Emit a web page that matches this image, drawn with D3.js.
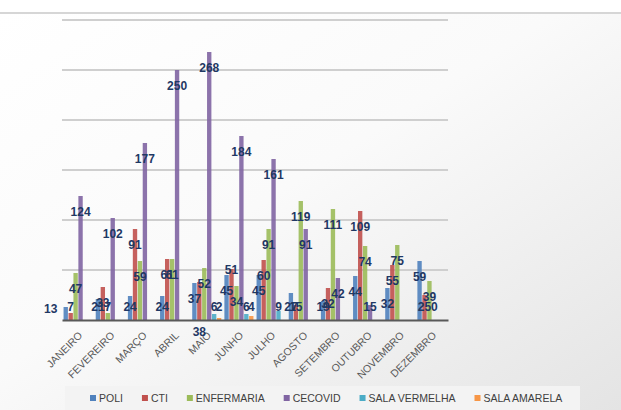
<!DOCTYPE html>
<html><head><meta charset="utf-8">
<script src="https://cdn.jsdelivr.net/npm/d3@7"></script>
<style>html,body{margin:0;padding:0;background:#fff;}svg{display:block;}</style>
</head><body>
<script>
const months = ["JANEIRO","FEVEREIRO","MARÇO","ABRIL","MAIO","JUNHO","JULHO","AGOSTO","SETEMBRO","OUTUBRO","NOVEMBRO","DEZEMBRO"];
const seriesNames = ["POLI","CTI","ENFERMARIA","CECOVID","SALA VERMELHA","SALA AMARELA"];
const poli         = [13, 21, 24, 24, 37, 45, 45, 27, 19, 44, 32, 59];
const cti          = [7, 33, 91, 61, 38, 51, 60, 15, 32, 109, 55, 25];
const enfermaria   = [47, 7, 59, 61, 52, 34, 91, 119, 111, 74, 75, 39];
const cecovid      = [124, 102, 177, 250, 268, 184, 161, 91, 42, 15, null, 0];
const salaVermelha = [null, null, null, null, 6, 6, 9, null, null, null, null, null];
const salaAmarela  = [null, null, null, null, 2, 4, null, null, null, null, null, null];
const yTicks = [0, 50, 100, 150, 200, 250, 300];
const colors = ["#4F81BD","#C0504D","#9BBB59","#8064A2","#4BACC6","#F79646"];

const seriesValues = [poli, cti, enfermaria, cecovid, salaVermelha, salaAmarela];
// manual data label nudges (as in the original chart)
const labelNudge = {"POLI|JANEIRO":[-15,2], "CTI|MAIO":[0,34], "CTI|JUNHO":[0,-15]};

const W = 621, H = 410;
const svg = d3.select("body").append("svg").attr("width", W).attr("height", H);
const defs = svg.append("defs");
const g1 = defs.append("linearGradient").attr("id","bg").attr("x1","0").attr("y1","0").attr("x2","1").attr("y2","1");
g1.append("stop").attr("offset","0").attr("stop-color","#ffffff");
g1.append("stop").attr("offset","0.45").attr("stop-color","#fafafa");
g1.append("stop").attr("offset","1").attr("stop-color","#e4e4e4");
svg.append("rect").attr("width",W).attr("height",H).attr("fill","#fff");
svg.append("rect").attr("x",0).attr("y",13).attr("width",W).attr("height",H-13).attr("fill","url(#bg)");
svg.append("line").attr("x1",0).attr("x2",W).attr("y1",13).attr("y2",13).attr("stroke","#d6d6d6").attr("stroke-width",2);

const pLeft = 62, pRight = 448, pTop = 20, pBottom = 320;
const x0 = d3.scaleBand().domain(months).range([pLeft, pRight]).paddingInner(0.06).paddingOuter(0.03);
const x1 = d3.scaleBand().domain(seriesNames).range([0, x0.bandwidth()]).padding(0.12);
const y = d3.scaleLinear().domain([0, 300]).range([pBottom, pTop]);

// gridlines
svg.append("g").selectAll("line").data(yTicks.filter(d => d > 0)).join("line")
  .attr("x1", pLeft).attr("x2", pRight).attr("y1", d => y(d)).attr("y2", d => y(d))
  .attr("stroke", "#cfcfcf").attr("stroke-width", 2);

// bars
const data = [];
seriesNames.forEach((s, si) => months.forEach((m, mi) => {
  const v = seriesValues[si][mi];
  if (v !== null && v !== undefined) data.push({s, si, m, v});
}));
svg.append("g").selectAll("rect").data(data.filter(d => d.v > 0)).join("rect")
  .attr("x", d => x0(d.m) + x1(d.s)).attr("width", x1.bandwidth())
  .attr("y", d => y(d.v)).attr("height", d => y(0) - y(d.v))
  .attr("fill", d => colors[d.si]).attr("opacity", 0.9);

// baseline axis
const xAxis = d3.axisBottom(x0).tickSize(0).tickFormat("");
const ax = svg.append("g").attr("transform", `translate(0,${pBottom})`).call(xAxis);
ax.select(".domain").attr("stroke", "#595959").attr("stroke-width", 2);

// month labels
svg.append("g").selectAll("text").data(months).join("text")
  .attr("transform", d => `translate(${x0(d) + x0.bandwidth()/2 + 5},${pBottom + 16}) rotate(-45)`)
  .attr("text-anchor", "end")
  .attr("font-family", "Liberation Sans, Arial, sans-serif").attr("font-size", 10.5)
  .attr("fill", "#595959").text(d => d);

// data labels
svg.append("g").selectAll("text").data(data).join("text")
  .attr("x", d => x0(d.m) + x1(d.s) + x1.bandwidth()/2 + ((labelNudge[d.s+"|"+d.m]||[0,0])[0]))
  .attr("y", d => Math.min(y(d.v) + 16, pBottom - 13) + ((labelNudge[d.s+"|"+d.m]||[0,0])[1]))
  .attr("dy", "0.35em").attr("text-anchor", "middle")
  .attr("font-family", "Liberation Sans, Arial, sans-serif").attr("font-size", 12).attr("font-weight", "bold")
  .attr("fill", "#1F3864").text(d => d.v);

// legend
svg.append("rect").attr("x", 65).attr("y", 386).attr("width", 515).attr("height", 24).attr("fill", "#f3f3f3");
const lg = svg.append("g");
let lx = 90;
seriesNames.forEach((s, i) => {
  lg.append("rect").attr("x", lx).attr("y", 395).attr("width", 6).attr("height", 6).attr("fill", colors[i]);
  const t = lg.append("text").attr("x", lx + 9).attr("y", 398).attr("dy", "0.35em")
    .attr("font-family", "Liberation Sans, Arial, sans-serif").attr("font-size", 10.5)
    .attr("fill", "#404040").text(s);
  lx += 9 + t.node().getComputedTextLength() + 19;
});
</script>
</body></html>
